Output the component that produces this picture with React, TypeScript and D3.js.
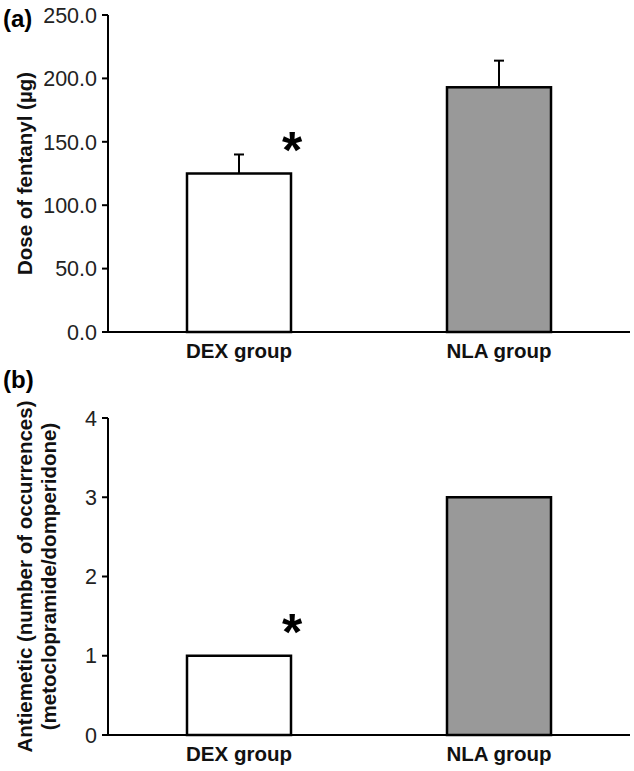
import React from "react";
import * as d3 from "d3";

const categories = ["DEX group", "NLA group"];
const doseMeans = [125, 193];
const doseErrors = [15, 21];
const doseTicks = [0, 50, 100, 150, 200, 250];
const antiemeticCounts = [1, 3];
const antiemeticTicks = [0, 1, 2, 3, 4];
const significance = ["*", ""];
const barFills = ["#ffffff", "#999999"];

const FONT = "'Liberation Sans', Arial, Helvetica, sans-serif";

type PanelProps = {
  label: string;
  values: number[];
  errors: number[] | null;
  ticks: number[];
  tickFormat: (v: number) => string;
  yDomain: [number, number];
  yRange: [number, number];
  yLabelLines: string[];
  panelLabelY: number;
};

const x = d3
  .scaleBand<string>()
  .domain(categories)
  .range([109, 629])
  .paddingInner(0.6)
  .paddingOuter(0.3);

function Panel({ label, values, errors, ticks, tickFormat, yDomain, yRange, yLabelLines, panelLabelY }: PanelProps) {
  const y = d3.scaleLinear().domain(yDomain).range(yRange);
  const axisX = 108;
  const yMid = (yRange[0] + yRange[1]) / 2;
  return (
    <g>
      <text x={3} y={panelLabelY} fontFamily={FONT} fontWeight="bold" fontSize={24} fill="#000">
        {label}
      </text>
      {yLabelLines.map((line, i) => (
        <text
          key={i}
          transform={`translate(${32 + i * 24},${yMid}) rotate(-90)`}
          textAnchor="middle"
          fontFamily={FONT}
          fontWeight="bold"
          fontSize={20.5}
          fill="#111"
        >
          {line}
        </text>
      ))}
      {values.map((v, i) => {
        const cat = categories[i];
        const bx = x(cat)!;
        const bw = x.bandwidth();
        const cx = bx + bw / 2;
        const top = y(v);
        return (
          <g key={cat}>
            {errors && (
              <g stroke="#000" strokeWidth={2}>
                <line x1={cx} x2={cx} y1={top} y2={y(v + errors[i])} />
                <line x1={cx - 5} x2={cx + 5} y1={y(v + errors[i])} y2={y(v + errors[i])} />
              </g>
            )}
            <rect x={bx} y={top} width={bw} height={y(0) - top} fill={barFills[i]} stroke="#000" strokeWidth={2.5} />
            {significance[i] && (
              <text
                x={bx + bw + 1}
                y={top - 6}
                textAnchor="middle"
                fontFamily={FONT}
                fontWeight="bold"
                fontSize={52}
                fill="#000"
              >
                {significance[i]}
              </text>
            )}
            <text
              x={cx}
              y={y(0) + 26}
              textAnchor="middle"
              fontFamily={FONT}
              fontWeight="bold"
              fontSize={20.5}
              fill="#111"
            >
              {cat}
            </text>
          </g>
        );
      })}
      <line x1={axisX} x2={axisX} y1={y(ticks[ticks.length - 1])} y2={y(0) + 1} stroke="#000" strokeWidth={2} />
      {ticks.map((t) => (
        <g key={t}>
          <line x1={axisX - 6} x2={axisX} y1={y(t)} y2={y(t)} stroke="#000" strokeWidth={2} />
          <text
            x={axisX - 11}
            y={y(t)}
            dy="0.36em"
            textAnchor="end"
            fontFamily={FONT}
            fontSize={21.5}
            fill="#222"
          >
            {tickFormat(t)}
          </text>
        </g>
      ))}
      <line x1={axisX - 6} x2={630} y1={y(0)} y2={y(0)} stroke="#000" strokeWidth={2} />
    </g>
  );
}

export default function App() {
  return (
    <svg
      width={634}
      height={771}
      style={{ position: "absolute", left: 0, top: 0, background: "#fff" }}
    >
      <rect width={634} height={771} fill="#fff" />
      <Panel
        label="(a)"
        values={doseMeans}
        errors={doseErrors}
        ticks={doseTicks}
        tickFormat={(v) => d3.format(".1f")(v)}
        yDomain={[0, 250]}
        yRange={[332, 15]}
        yLabelLines={["Dose of fentanyl (µg)"]}
        panelLabelY={27}
      />
      <Panel
        label="(b)"
        values={antiemeticCounts}
        errors={null}
        ticks={antiemeticTicks}
        tickFormat={(v) => d3.format("d")(v)}
        yDomain={[0, 4]}
        yRange={[735, 418]}
        yLabelLines={["Antiemetic (number of occurrences)", "(metoclopramide/domperidone)"]}
        panelLabelY={388}
      />
    </svg>
  );
}
